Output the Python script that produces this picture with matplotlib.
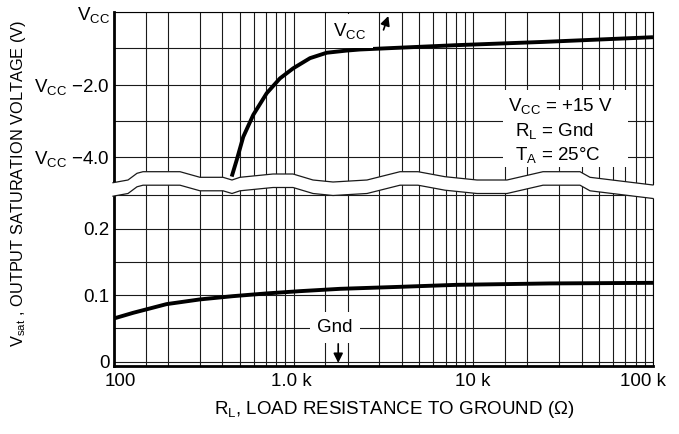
import numpy as np
import matplotlib
matplotlib.use('Agg')
import matplotlib.pyplot as plt
from matplotlib.patches import Polygon, Rectangle
from matplotlib.lines import Line2D
from matplotlib.ticker import LogLocator, FixedLocator, NullFormatter
from matplotlib.transforms import ScaledTranslation
from matplotlib import font_manager as fm

# ---------------- data ----------------
r_high = [452, 482, 524, 596, 708, 839, 995, 1233, 1527, 1972, 2338, 3905, 8070, 24500, 100000]
v_high = [-4.55, -4.09, -3.45, -2.84, -2.24, -1.83, -1.55, -1.27, -1.12, -1.06, -1.03, -0.98, -0.91, -0.82, -0.69]
r_low = [100, 128, 196, 301, 460, 707, 1084, 1811, 3905, 8070, 26700, 100000]
v_low = [0.065, 0.0735, 0.0865, 0.0936, 0.0985, 0.1026, 0.106, 0.1095, 0.1125, 0.1155, 0.1176, 0.1185]
x_ticks = [100, 1000, 10000, 100000]
x_labels = ['100', '1.0 k', '10 k', '100 k']
upper_ticks = [0, -2, -4]
upper_labels = [r'$\mathregular{V_{CC}}$', r'$\mathregular{V_{CC}}$ −2.0', r'$\mathregular{V_{CC}}$ −4.0']
lower_ticks = [0, 0.1, 0.2]
lower_labels = ['0', '0.1', '0.2']

# ---------------- fonts ----------------
names = {f.name for f in fm.fontManager.ttflist}
FONT = 'Liberation Sans Narrow' if 'Liberation Sans Narrow' in names else 'Liberation Sans'
plt.rcParams['font.family'] = [FONT, 'DejaVu Sans']
plt.rcParams['mathtext.fontset'] = 'custom'
plt.rcParams['mathtext.rm'] = FONT
FS = 15.5 if FONT == 'Liberation Sans Narrow' else 13.5
FS_Y = FS * 0.875

W, H = 679, 434
fig = plt.figure(figsize=(W / 100, H / 100), dpi=100)

def fy(py):
    return 1 - py / H

L, R = 114, 653
TOP, MID, BOT = 12.3, 182, 365.7
ax_up = fig.add_axes([L / W, fy(MID), (R - L) / W, (MID - TOP) / H])
ax_lo = fig.add_axes([L / W, fy(BOT), (R - L) / W, (BOT - MID) / H])

GRID = dict(color='#1a1a1a', lw=0.8)
for ax in (ax_up, ax_lo):
    ax.set_xscale('log')
    ax.set_xlim(100, 100000)
    ax.xaxis.set_major_locator(FixedLocator(x_ticks))
    ax.xaxis.set_minor_locator(LogLocator(base=10, subs=[1.5, 2, 3, 4, 5, 6, 7, 8, 9]))
    ax.xaxis.set_minor_formatter(NullFormatter())
    ax.grid(True, which='both', axis='both', **GRID)
    ax.set_axisbelow(True)
    ax.tick_params(which='both', length=0, labelsize=FS)
    ax.spines['left'].set_linewidth(2.0)
    ax.spines['right'].set_linewidth(0.8)

ax_up.set_ylim(-4.7, 0)
ax_up.set_yticks(upper_ticks)
ax_up.set_yticklabels(upper_labels)
ax_up.set_yticks([-1, -3], minor=True)
ax_up.tick_params(axis='x', labelbottom=False)
ax_up.tick_params(axis='y', pad=3)
ax_up.spines['bottom'].set_visible(False)
ax_up.spines['top'].set_linewidth(0.8)

ax_lo.set_ylim(-0.006, 0.27)
ax_lo.set_yticks(lower_ticks)
ax_lo.set_yticklabels(lower_labels)
ax_lo.set_yticks([0.05, 0.15, 0.25], minor=True)
ax_lo.set_xticklabels(x_labels)
ax_lo.tick_params(axis='x', pad=5)
ax_lo.tick_params(axis='y', pad=3)
ax_lo.spines['top'].set_visible(False)
ax_lo.spines['bottom'].set_linewidth(2.0)

# nudge x tick labels as in the original layout (pixels)
for lab, dx in zip(ax_lo.get_xticklabels(), [6, -2, -1, -10]):
    lab.set_transform(lab.get_transform() + ScaledTranslation(dx / 100, 0, fig.dpi_scale_trans))

# curves
ax_up.plot(r_high, v_high, color='black', lw=2.8, solid_capstyle='butt', zorder=3)
ax_lo.plot(r_low, v_low, color='black', lw=2.8, solid_capstyle='butt', zorder=3)

# annotations
ax_up.annotate('', xy=(3404, -0.03), xytext=(3126, -0.56),
               arrowprops=dict(arrowstyle='-|>', color='black', lw=1.2, mutation_scale=14),
               annotation_clip=False, zorder=5)
ax_up.text(2056, -0.52, r'$\mathregular{V_{CC}}$', fontsize=FS, ha='center', va='center',
           bbox=dict(facecolor='white', edgecolor='none', pad=5), zorder=4)

ax_lo.text(1698, 0.0513, 'Gnd', fontsize=FS, ha='center', va='center',
           bbox=dict(facecolor='white', edgecolor='none', pad=5), zorder=4)
ax_lo.annotate('', xy=(1770, -0.006), xytext=(1770, 0.031),
               arrowprops=dict(arrowstyle='-|>', color='black', lw=1.2, mutation_scale=14),
               annotation_clip=False, zorder=5)

ax_up.add_patch(Rectangle((0.7217, 0.088), 0.9536 - 0.7217, 0.542 - 0.088,
                          transform=ax_up.transAxes, facecolor='white', edgecolor='none', zorder=2.5))
ax_up.text(0.731, 0.445, r'$\mathregular{V_{CC}}$ = +15 V', transform=ax_up.transAxes,
           fontsize=FS, ha='left', va='center', zorder=4)
ax_up.text(0.744, 0.302, r'$\mathregular{R_L}$ = Gnd', transform=ax_up.transAxes,
           fontsize=FS, ha='left', va='center', zorder=4)
ax_up.text(0.744, 0.160, r'$\mathregular{T_A}$ = 25°C', transform=ax_up.transAxes,
           fontsize=FS, ha='left', va='center', zorder=4)

# axis titles
fig.text(394 / W, fy(409), r'$\mathregular{R_L}$, LOAD RESISTANCE TO GROUND (Ω)',
         fontsize=FS, ha='center', va='center')
fig.text(19 / W, fy(183), r'$\mathregular{V_{sat}}$ , OUTPUT SATURATION VOLTAGE (V)',
         fontsize=FS_Y, ha='center', va='center', rotation=90)

# axis break band (decoration, figure pixel coordinates)
wx = [113, 128, 137, 143, 180, 200, 223, 232, 240, 273, 293, 313, 333, 367, 400, 418,
      445, 477, 507, 543, 580, 590, 653]
wy = [182.7, 180, 173.3, 171.7, 171.7, 177.3, 177.3, 180, 177.3, 174, 174, 180, 182,
      180, 171.7, 171.7, 176.7, 180, 180, 171.7, 171.7, 177.3, 185]
gap = 13.5
up_pts = [(x / W, fy(y)) for x, y in zip(wx, wy)]
lo_pts = [(x / W, fy(y + gap)) for x, y in zip(wx, wy)]
fill = [((wx[0] - 2) / W, fy(wy[0]))] + up_pts + [((wx[-1] + 2) / W, fy(wy[-1])),
        ((wx[-1] + 2) / W, fy(wy[-1] + gap))] + lo_pts[::-1] + [((wx[0] - 2) / W, fy(wy[0] + gap))]
fig.add_artist(Polygon(fill, closed=True, transform=fig.transFigure,
                       facecolor='white', edgecolor='none', zorder=10))
for pts in (up_pts, lo_pts):
    xs, ys = zip(*pts)
    fig.add_artist(Line2D(xs, ys, transform=fig.transFigure, color='#1a1a1a', lw=0.9, zorder=11))

fig.savefig('out.png', dpi=100)
